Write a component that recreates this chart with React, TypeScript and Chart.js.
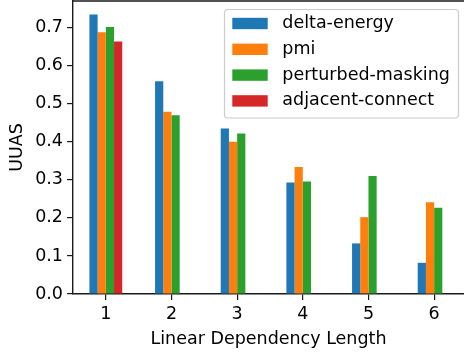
import React, { useEffect, useRef } from 'react';
import { Chart, registerables } from 'chart.js';

Chart.register(...registerables);

const categories = [1, 2, 3, 4, 5, 6];
const seriesNames = ['delta-energy', 'pmi', 'perturbed-masking', 'adjacent-connect'];
const seriesColors = ['#1f77b4', '#ff7f0e', '#2ca02c', '#d62728'];
const deltaEnergy = [0.735, 0.559, 0.435, 0.293, 0.133, 0.082];
const pmi = [0.688, 0.479, 0.4, 0.334, 0.202, 0.241];
const perturbedMasking = [0.702, 0.47, 0.422, 0.296, 0.31, 0.227];
const adjacentConnect = [0.664, null, null, null, null, null];
const yTicks = [0, 0.1, 0.2, 0.3, 0.4, 0.5, 0.6, 0.7];
const xTitle = 'Linear Dependency Length';
const yTitle = 'UUAS';

const FONT = '"DejaVu Sans", sans-serif';
const FS = 17.5;
const SPINE = '#1a1a1a';

const topSpine = {
  id: 'topSpine',
  afterDraw(chart: any) {
    const { ctx, chartArea } = chart;
    ctx.save();
    ctx.strokeStyle = SPINE;
    ctx.lineWidth = 1.4;
    ctx.beginPath();
    ctx.moveTo(chartArea.left - 0.7, chartArea.top);
    ctx.lineTo(chartArea.right + 2, chartArea.top);
    ctx.stroke();
    ctx.restore();
  },
};

const mplLegend = {
  id: 'mplLegend',
  afterDraw(chart: any) {
    const ctx = chart.ctx;
    ctx.save();
    ctx.beginPath();
    (ctx as any).roundRect(224.5, 9.5, 234, 108.5, 3.5);
    ctx.fillStyle = 'rgba(255,255,255,0.8)';
    ctx.fill();
    ctx.strokeStyle = '#cccccc';
    ctx.lineWidth = 1.2;
    ctx.stroke();
    chart.data.datasets.forEach((ds: any, i: number) => {
      const cy = 23.5 + i * 25.8;
      ctx.fillStyle = ds.backgroundColor;
      ctx.fillRect(232.3, cy - 5.7, 35.4, 11.4);
      ctx.fillStyle = '#000';
      ctx.font = `${FS}px ${FONT}`;
      ctx.textBaseline = 'middle';
      ctx.textAlign = 'left';
      ctx.fillText(ds.label, 282.3, cy);
    });
    ctx.restore();
  },
};

export default function App() {
  const ref = useRef<HTMLCanvasElement>(null);
  useEffect(() => {
    if (!ref.current) return;
    const series = [deltaEnergy, pmi, perturbedMasking, adjacentConnect];
    const chart = new Chart(ref.current, {
      type: 'bar',
      data: {
        datasets: series.map((vals, i) => ({
          label: seriesNames[i],
          backgroundColor: seriesColors[i],
          borderWidth: 0,
          data: categories.map((c, j) => ({ x: c, y: vals[j] })) as any,
          categoryPercentage: 0.5,
          barPercentage: 1.0,
        })),
      },
      options: {
        animation: false,
        responsive: false,
        maintainAspectRatio: false,
        layout: { padding: { top: 1, left: 0, right: 0, bottom: 0 } },
        plugins: { legend: { display: false }, tooltip: { enabled: false } },
        scales: {
          x: {
            type: 'linear',
            min: 0.5,
            max: 6.455,
            offset: false,
            grid: { display: true, drawOnChartArea: false, drawTicks: true, tickLength: 6, color: SPINE, lineWidth: 1.2, offset: false },
            border: { display: true, color: SPINE, width: 1.4 },
            ticks: { color: '#000', font: { family: FONT, size: FS }, padding: 4, autoSkip: false, maxRotation: 0, callback: (v: any) => String(v) },
            title: { display: true, text: xTitle, color: '#000', font: { family: FONT, size: FS }, padding: { top: 0, bottom: 5 } },
            afterBuildTicks: (s: any) => { s.ticks = categories.map((c) => ({ value: c })); },
            afterFit: (s: any) => { s.height = 61; s.paddingLeft = 0; s.paddingRight = 0; },
          },
          y: {
            min: 0,
            max: 0.7702,
            grid: { display: true, drawOnChartArea: false, drawTicks: true, tickLength: 6, color: SPINE, lineWidth: 1.2 },
            border: { display: true, color: SPINE, width: 1.4 },
            ticks: { color: '#000', font: { family: FONT, size: FS }, padding: 4, callback: (v: any) => Number(v).toFixed(1) },
            title: { display: true, text: yTitle, color: '#000', font: { family: FONT, size: FS }, padding: { top: 6.5, bottom: 0 } },
            afterBuildTicks: (s: any) => { s.ticks = yTicks.map((v) => ({ value: v })); },
            afterFit: (s: any) => { s.width = 73; s.paddingTop = 0; s.paddingBottom = 0; },
          },
        },
      },
      plugins: [topSpine, mplLegend],
    });
    return () => chart.destroy();
  }, []);
  return (
    <div style={{ position: 'absolute', left: 0, top: 0, width: 464, height: 355, background: '#fff' }}>
      <canvas ref={ref} width={464} height={355} style={{ display: 'block', width: 464, height: 355 }} />
    </div>
  );
}
